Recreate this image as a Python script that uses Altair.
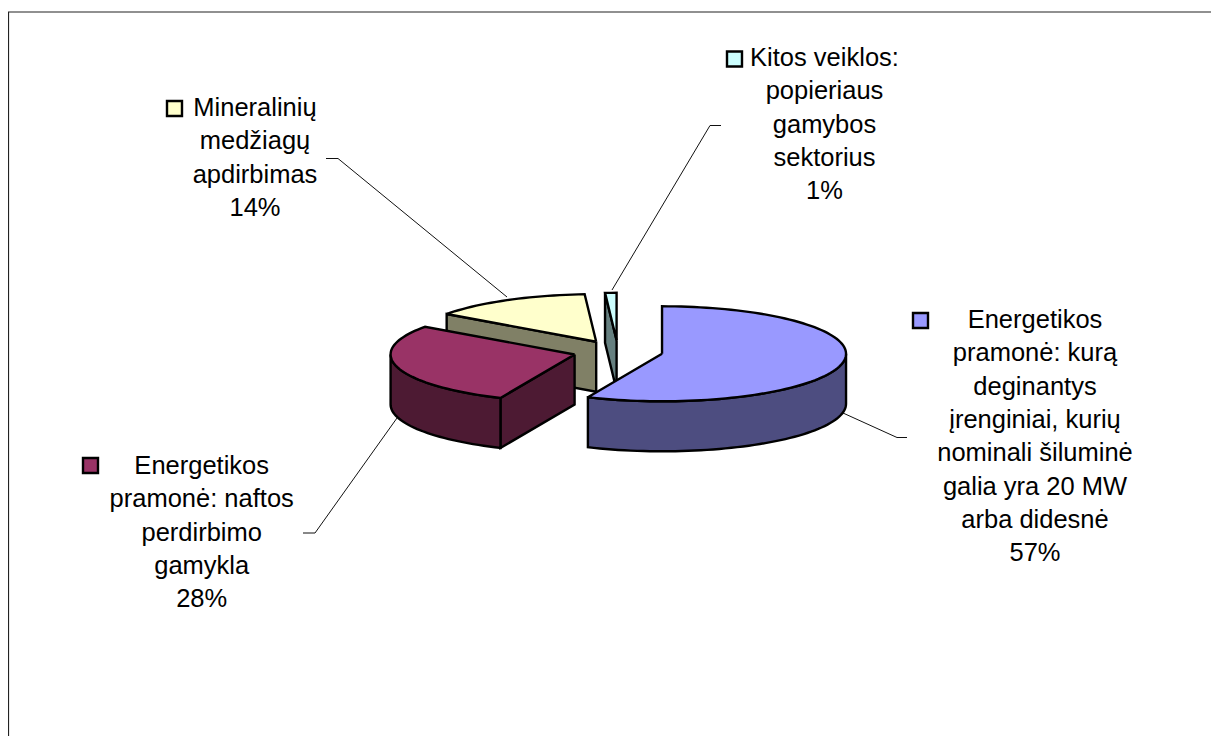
import math
import altair as alt
import pandas as pd

# --- values -----------------------------------------------------------------
slices = ["energy", "refinery", "mineral", "other"]
shares = [56.6, 28.3, 14.1, 1.0]
top_colors = ["#9999FF", "#993366", "#FFFFCC", "#CCFFFF"]
side_colors = ["#4D4D80", "#4D1A33", "#808066", "#668080"]
label_lines = [
    ["Energetikos", "pramonė: kurą", "deginantys", "įrenginiai, kurių",
     "nominali šiluminė", "galia yra 20 MW", "arba didesnė"],
    ["Energetikos", "pramonė: naftos", "perdirbimo", "gamykla"],
    ["Mineralinių", "medžiagų", "apdirbimas"],
    ["Kitos veiklos:", "popieriaus", "gamybos", "sektorius"],
]

# --- layout of the drawing, in page pixels ----------------------------------
PIE_X, PIE_Y = 618.0, 351.5      # pie axis
RX, RY = 184.0, 47.5             # ellipse radii
EX, EY = 45.0, 11.2              # explosion radii
DEPTH = 50.0
LEFT, TOP, RIGHT, BOTTOM = 8, 8, 1211, 736
LABEL_X = [1035.0, 201.7, 255.0, 824.5]
LABEL_Y = [328.0, 474.0, 116.0, 66.0]
LINE_GAP = 33.3
KEY_X = [920.5, 90.5, 174.5, 734.5]
KEY_Y = [320.5, 465.5, 108.5, 59.0]
LEADERS = [
    [(843, 413), (897, 437.5), (907, 437.5)],
    [(397, 418), (315, 533), (303, 533)],
    [(507, 297), (338, 158.5), (326, 158.5)],
    [(612, 290), (710, 125.5), (721, 125.5)],
]
FRAME = [[(8.5, 736), (8.5, 12), (1211, 12)]]


def rim(cx, cy, deg, dy=0.0):
    t = math.radians(deg)
    return (cx + RX * math.sin(t), cy - RY * math.cos(t) + dy)


def arc(cx, cy, a, b, dy=0.0):
    n = max(2, int(abs(b - a) / 2) + 2)
    return [rim(cx, cy, a + (b - a) * i / (n - 1), dy) for i in range(n)]


polys = []


def add(name, color, pts):
    pts = list(pts) + [pts[0]]
    for i, (x, y) in enumerate(pts):
        polys.append({"poly": name, "fill": color, "x": x, "y": y, "i": i})


total = sum(shares)
starts = []
acc = 0
for s in shares:
    starts.append(acc / total * 360)
    acc += s

# back to front: last slice first
for k in reversed(range(len(shares))):
    a = starts[k]
    b = a + shares[k] / total * 360
    mid = math.radians((a + b) / 2)
    cx = PIE_X + EX * math.sin(mid)
    cy = PIE_Y - EY * math.cos(mid)
    name = slices[k]
    # straight wall that faces the viewer
    if 180 < a < 360:
        p = rim(cx, cy, a)
        add(name + "_wall", side_colors[k],
            [(cx, cy), p, (p[0], p[1] + DEPTH), (cx, cy + DEPTH)])
    # outer rim on the front half
    lo, hi = max(a, 90), min(b, 270)
    if lo < hi:
        add(name + "_rim", side_colors[k],
            arc(cx, cy, lo, hi) + arc(cx, cy, hi, lo, DEPTH))
    # top face
    add(name + "_top", top_colors[k], [(cx, cy)] + arc(cx, cy, a, b))

poly_df = pd.DataFrame(polys)

thin = []
for j, line in enumerate(LEADERS):
    for i, (x, y) in enumerate(line):
        thin.append({"id": f"l{j}", "x": x, "y": y, "i": i})
frame = []
for j, line in enumerate(FRAME):
    for i, (x, y) in enumerate(line):
        frame.append({"id": f"f{j}", "x": x, "y": y, "i": i})

text_rows = []
for k, lines in enumerate(label_lines):
    full = lines + [f"{round(shares[k])}%"]
    for i, t in enumerate(full):
        text_rows.append({"x": LABEL_X[k], "y": LABEL_Y[k] + i * LINE_GAP, "t": t})

key_df = pd.DataFrame({"x": KEY_X, "y": KEY_Y, "fill": top_colors})

xs = alt.Scale(domain=[LEFT, RIGHT], nice=False, zero=False)
ys = alt.Scale(domain=[BOTTOM, TOP], nice=False, zero=False)
X = alt.X("x:Q", scale=xs, axis=None)
Y = alt.Y("y:Q", scale=ys, axis=None)

poly_layer = alt.Chart(poly_df).mark_line(
    stroke="#000000", strokeWidth=2.4, strokeJoin="miter", strokeMiterLimit=3
).encode(
    x=X, y=Y,
    detail="poly:N",
    fill=alt.Fill("fill:N", scale=None),
    order="i:Q",
)
leader_layer = alt.Chart(pd.DataFrame(thin)).mark_line(
    stroke="#111111", strokeWidth=1
).encode(x=X, y=Y, detail="id:N", order="i:Q")
frame_layer = alt.Chart(pd.DataFrame(frame)).mark_line(
    stroke="#222222", strokeWidth=1.2
).encode(x=X, y=Y, detail="id:N", order="i:Q")
key_layer = alt.Chart(key_df).mark_square(
    size=225, stroke="#000000", strokeWidth=2.4, opacity=1
).encode(x=X, y=Y, fill=alt.Fill("fill:N", scale=None))
text_layer = alt.Chart(pd.DataFrame(text_rows)).mark_text(
    font="Liberation Sans", fontSize=25.5, align="center", baseline="alphabetic",
    color="#000000"
).encode(x=X, y=Y, text="t:N")

chart = alt.layer(
    frame_layer, leader_layer, poly_layer, key_layer, text_layer
).properties(
    width=RIGHT - LEFT, height=BOTTOM - TOP,
    padding=0, autosize=alt.AutoSizeParams(type="none"),
    background="#FFFFFF",
).configure_view(stroke=None)

chart.save("out.html", embed_options={"renderer": "svg", "actions": False})
